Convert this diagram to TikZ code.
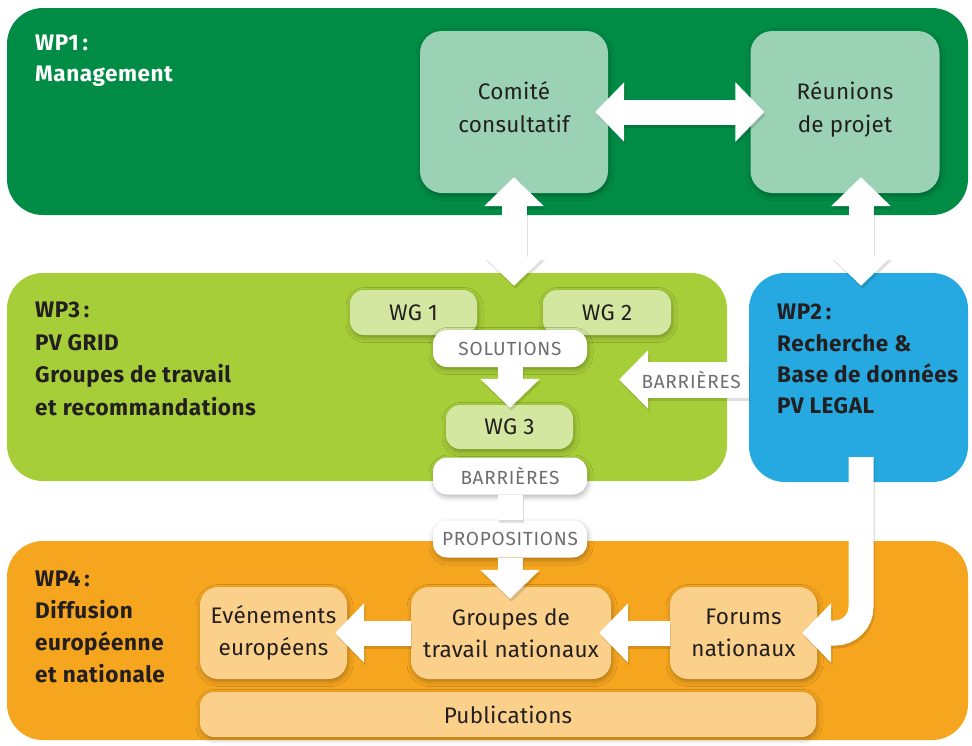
\documentclass[tikz,border=0pt]{standalone}
\usepackage{fontspec}
\setmainfont{Fira Sans}
\usetikzlibrary{arrows.meta,shadows.blur,calc}
\definecolor{wpone}{HTML}{008C45}
\definecolor{wponel}{HTML}{9BD2B5}
\definecolor{wpthree}{HTML}{A6CE39}
\definecolor{wpthreel}{HTML}{D3E7A0}
\definecolor{wptwo}{HTML}{25A9E0}
\definecolor{wpfour}{HTML}{F6A51F}
\definecolor{wpfourl}{HTML}{FAD08B}
\definecolor{txt}{HTML}{231F20}
\definecolor{lbl}{HTML}{6D6E71}
\newcommand\regfont{\fontsize{22.5}{32.5}\selectfont\addfontfeatures{LetterSpace=1}}
\newcommand\tagfont{\fontsize{19}{20}\selectfont\addfontfeatures{LetterSpace=4}}
\newcommand\wpfont{\bfseries\fontsize{22.5}{32}\selectfont\addfontfeatures{LetterSpace=2.5}}
\tikzset{
  wpbox/.style={rounded corners=36pt, inner sep=0pt, draw=none},
  softshadow/.style={blur shadow={shadow xshift=1pt, shadow yshift=-2.5pt, shadow blur radius=5pt, shadow opacity=30}},
  inbox/.style={softshadow, rounded corners=22pt, inner sep=0pt, align=center, text=txt, font=\regfont},
  smallbox/.style={inbox, rounded corners=14pt},
  tagbox/.style={softshadow, fill=white, rounded corners=14pt, inner sep=0pt, text=lbl, font=\tagfont, minimum width=154pt, minimum height=37pt},
  lbltext/.style={inner sep=0pt, text=lbl, font=\tagfont},
  wptext/.style={anchor=base west, inner sep=0pt, font=\wpfont, text=txt},
  fat/.style={line width=25pt},
  head/.style={-{Triangle[length=29pt,width=58pt]}},
  dblhead/.style={{Triangle[length=29pt,width=58pt]}-{Triangle[length=29pt,width=58pt]}},
  whitearrow/.style={draw=white},
  shadowarrow/.style={draw=black, opacity=0.12, transform canvas={shift={(1.5pt,-3pt)}}},
}
\newcommand\drawfatarrows[1]{%
  \draw[#1, fat, dblhead] (a1s) -- (a1e);
  \draw[#1, fat, dblhead] (a2s) -- (a2e);
  \draw[#1, fat, dblhead] (a3s) -- (a3e);
  \draw[#1, fat, head] (sol.south) -- (a4e);
  \draw[#1, fat] (barr2.south) -- (prop.north);
  \draw[#1, fat, head] (prop.south) -- (a6e);
  \draw[#1, line width=36pt, -{Triangle[length=29pt,width=57pt]}] (bst) -- (btip);
  \draw[#1, fat, head, rounded corners=26pt] (cs) |- (ce);
  \draw[#1, fat, head] (gtn.west) -- (d1e);
  \draw[#1, fat, head] (forums.west) -- (d2e);
}
\begin{document}
\begin{tikzpicture}[x=1pt,y=-1pt]
\useasboundingbox (0,0) rectangle (972,745);
% work package boxes
\node[wpbox, fill=wpone, minimum width=961pt, minimum height=207pt] (wp1) at (487.5,111.5) {};
\node[wpbox, fill=wpthree, minimum width=720pt, minimum height=208pt] (wp3) at (367,377) {};
\node[wpbox, fill=wptwo, minimum width=219pt, minimum height=209pt] (wp2) at (858.5,377.5) {};
\node[wpbox, fill=wpfour, minimum width=961pt, minimum height=199pt] (wp4) at (487.5,640.5) {};
% WP labels
\node[wptext, text=white] (wp1a) at (35,50) {WP1\,:};
\node[wptext, text=white] (wp1b) at (35,81) {Management};
\node[wptext] (wp3a) at (35,317) {WP3\,:};
\node[wptext] (wp3b) at (35,350) {PV GRID};
\node[wptext] (wp3c) at (35,382) {Groupes de travail};
\node[wptext] (wp3d) at (35,415) {et recommandations};
\node[wptext] (wp2a) at (777,319) {WP2\,:};
\node[wptext] (wp2b) at (777,351) {Recherche \&};
\node[wptext] (wp2c) at (777,382) {Base de données};
\node[wptext] (wp2d) at (777,413) {PV LEGAL};
\node[wptext] (wp4a) at (35,586) {WP4\,:};
\node[wptext] (wp4b) at (35,618) {Diffusion};
\node[wptext] (wp4c) at (35,650) {européenne};
\node[wptext] (wp4d) at (35,682) {et nationale};
% inner boxes
\node[inbox, fill=wponel, minimum width=188pt, minimum height=162pt, text depth=10pt] (comite) at (514,112) {Comité\\consultatif};
\node[inbox, fill=wponel, minimum width=189pt, minimum height=162pt, text depth=10pt] (reunions) at (845,112) {Réunions\\de projet};
\node[smallbox, fill=wpthreel, minimum width=127pt, minimum height=45pt] (wg1) at (413.5,312.5) {WG 1};
\node[smallbox, fill=wpthreel, minimum width=128pt, minimum height=45pt] (wg2) at (607,312.5) {WG 2};
\node[smallbox, fill=wpthreel, minimum width=127pt, minimum height=44pt] (wg3) at (509.5,427) {WG 3};
\node[inbox, fill=wpfourl, rounded corners=18pt, minimum width=147pt, minimum height=92pt] (evt) at (273.5,633) {Evénements\\européens};
\node[inbox, fill=wpfourl, rounded corners=18pt, minimum width=200pt, minimum height=92pt] (gtn) at (511,633) {Groupes de\\travail nationaux};
\node[inbox, fill=wpfourl, rounded corners=18pt, minimum width=147pt, minimum height=92pt] (forums) at (743.5,633) {Forums\\nationaux};
\node[smallbox, fill=wpfourl, minimum width=616pt, minimum height=45pt] (pub) at (508,714.5) {Publications};
% tags
\node[tagbox] (sol) at (510,348.5) {SOLUTIONS};
\node[tagbox] (barr2) at (510,476) {BARRIÈRES};
\node[tagbox] (prop) at (510,539) {PROPOSITIONS};
% arrow end points
\coordinate (a1s) at ([xshift=-13pt]comite.east);
\coordinate (a1e) at ([xshift=14pt]reunions.west);
\coordinate (a2s) at ([yshift=16pt]comite.south);
\coordinate (a2b) at (comite.south |- wp3.north);
\coordinate (a2e) at ([yshift=-13pt]a2b);
\coordinate (a3x) at ([xshift=2.5pt]wp2.north);
\coordinate (a3b) at (a3x |- reunions.south);
\coordinate (a3s) at ([yshift=16pt]a3b);
\coordinate (a3e) at ([yshift=-13pt]a3x);
\coordinate (a4b) at (sol.south |- wg3.north);
\coordinate (a4e) at ([yshift=-3pt]a4b);
\coordinate (a6b) at (prop.south |- gtn.north);
\coordinate (a6e) at ([yshift=-12pt]a6b);
\coordinate (bst) at ([yshift=-2pt]wp2.west);
\coordinate (bx) at ([xshift=-108pt]wp3.east);
\coordinate (btip) at (bx |- bst);
\coordinate (cs) at ([xshift=2.5pt,yshift=25pt]wp2.south);
\coordinate (ce) at ([xshift=-15pt]forums.east);
\coordinate (d1e) at ([xshift=-12pt]evt.east);
\coordinate (d2e) at ([xshift=-12pt]gtn.east);
% arrows
\drawfatarrows{shadowarrow}
\drawfatarrows{whitearrow}
\node[lbltext] (barr1) at ($(bst)!0.445!(btip)$) {BARRIÈRES};
\end{tikzpicture}
\end{document}
